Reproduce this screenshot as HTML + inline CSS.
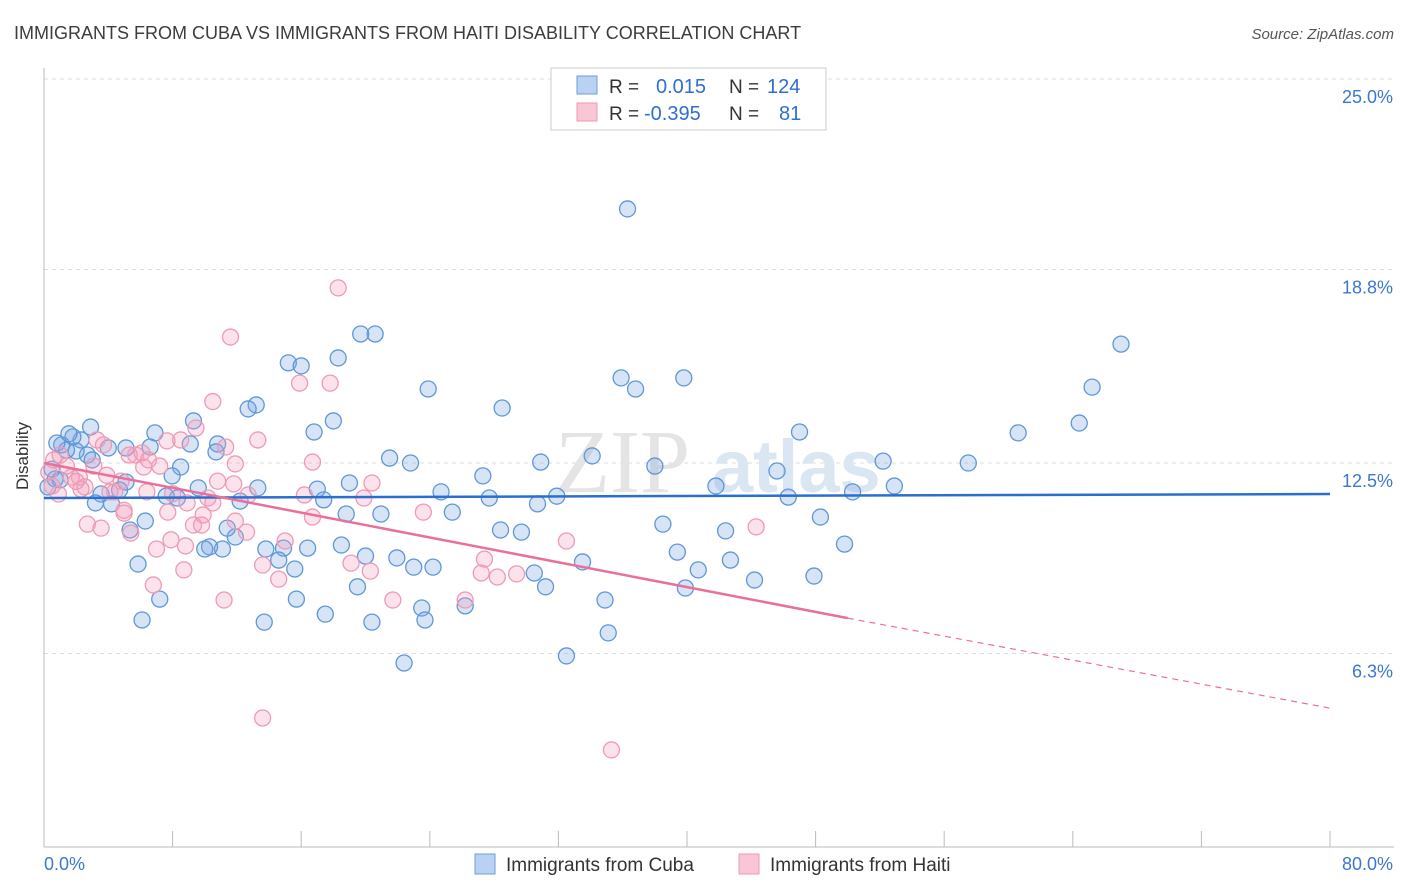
<!DOCTYPE html>
<html><head><meta charset="utf-8"><style>
body{margin:0;background:#fff;font-family:"Liberation Sans",sans-serif;}
svg{display:block}
</style></head><body>
<svg id="chart" width="1406" height="892">
<text x="14" y="39" font-size="18" fill="#3c3c3c">IMMIGRANTS FROM CUBA VS IMMIGRANTS FROM HAITI DISABILITY CORRELATION CHART</text>
<text x="1394" y="39" font-size="15" fill="#555" font-style="italic" text-anchor="end">Source: ZipAtlas.com</text>
<text x="28" y="456" font-size="17" fill="#333" text-anchor="middle" transform="rotate(-90 28 456)">Disability</text>
<g id="grid"></g>
<g><text x="555" y="492" font-size="90" font-family="Liberation Serif" fill="#e4e4e4">ZIP</text><text x="712" y="492" font-size="74" fill="#dbe6f3" font-weight="bold">atlas</text></g>
<g id="axes"></g>
<g id="pts"></g>
<g id="trends"></g>
<g>
<rect x="551" y="68" width="275" height="62" fill="#fff" stroke="#ccc"/>
<rect x="577" y="76" width="20" height="18" fill="#b9d2f2" stroke="#6a9fdc"/>
<rect x="577" y="103" width="20" height="18" fill="#f8c6d5" stroke="#ee9ab5"/>
<text x="609" y="93" font-size="19" fill="#333">R = </text><text x="656" y="93" font-size="20" fill="#2f6fcf">0.015</text>
<text x="729" y="93" font-size="19" fill="#333">N = </text><text x="767" y="93" font-size="20" fill="#2f6fcf">124</text>
<text x="609" y="120" font-size="19" fill="#333">R = </text><text x="644" y="120" font-size="20" fill="#2f6fcf">-0.395</text>
<text x="729" y="120" font-size="19" fill="#333">N = </text><text x="779" y="120" font-size="20" fill="#2f6fcf">81</text>
</g>
<g>
<rect x="475" y="854" width="20" height="20" fill="#b9d2f2" stroke="#6a9fdc"/>
<text x="506" y="871" font-size="19" fill="#333">Immigrants from Cuba</text>
<rect x="739" y="854" width="20" height="20" fill="#f8c6d5" stroke="#ee9ab5"/>
<text x="770" y="871" font-size="19" fill="#333">Immigrants from Haiti</text>
</g>
</svg>
<script>
const yTicks=[25.0,18.8,12.5,6.3];
const yTickLabels=["25.0%","18.8%","12.5%","6.3%"];
const xTickLabels=["0.0%","80.0%"];
const cubaX=[36.3,67.0,65.2,64.4,60.6,57.5,52.2,52.9,50.3,47.0,45.6,46.3,48.3,49.8,47.9,44.2,42.7,42.4,41.8,39.8,38.0,38.5,39.4,40.7,39.9,35.9,36.8,34.1,33.5,34.9,35.1,32.5,31.9,30.9,30.7,31.2,30.5,29.7,28.4,28.5,27.7,27.3,26.2,25.4,24.7,23.9,24.2,23.0,23.5,23.7,22.4,21.95,22.8,21.5,20.96,20.6,19.7,18.3,18.0,19.0,18.8,18.5,19.5,20.0,20.4,17.5,16.8,17.0,17.4,16.4,15.7,15.6,14.9,15.2,16.0,14.6,13.7,13.8,13.2,12.7,13.3,12.2,11.9,11.4,11.1,10.8,10.7,10.3,10.0,9.6,9.3,9.1,8.5,8.3,7.6,7.97,7.2,6.9,6.6,6.3,5.85,6.1,5.35,5.1,5.1,4.7,4.2,3.55,3.2,4.0,2.9,2.7,2.3,1.8,2.0,1.4,1.1,0.8,0.5,0.7,0.25,1.0,1.55,3.0];
const cubaY=[20.77,16.37,14.97,13.8,13.48,12.5,12.56,11.75,11.56,13.51,12.24,11.39,10.74,9.86,8.82,8.69,9.34,10.29,11.75,15.27,12.4,10.51,9.6,9.02,8.43,15.27,14.91,12.73,9.28,8.04,6.97,6.22,11.42,12.53,11.17,8.47,8.92,10.25,10.32,14.29,11.36,12.08,7.85,10.9,11.56,14.91,9.11,9.11,7.78,7.39,5.99,9.41,12.5,12.66,10.84,16.7,16.7,15.92,13.87,11.85,10.84,9.83,8.47,9.47,7.32,7.58,13.51,11.65,11.3,9.73,8.07,9.05,9.73,15.76,15.66,9.34,7.32,9.7,14.39,14.26,11.69,11.26,10.09,10.38,9.7,13.12,12.86,9.77,9.7,11.69,13.87,13.12,12.37,11.36,11.42,12.08,8.07,13.48,13.02,10.61,9.21,7.39,10.32,12.99,11.88,11.62,11.17,11.49,11.2,12.99,13.67,12.76,13.25,13.35,12.89,12.92,13.09,13.15,12.3,11.98,11.72,11.95,13.45,12.6];
const haitiX=[35.3,13.6,18.3,11.6,15.9,17.8,10.5,9.45,13.3,11.3,8.5,7.65,16.7,20.4,19.9,16.2,10.8,11.8,10.2,8.9,7.7,7.2,6.2,6.4,5.7,5.3,4.8,4.1,4.4,4.98,5.4,3.7,3.1,3.3,2.55,2.3,2.2,1.7,1.4,0.9,0.5,0.6,2.7,3.55,7.0,6.8,7.9,8.7,8.8,9.3,9.8,9.9,10.5,11.2,11.9,12.6,12.7,13.6,14.6,15.0,16.7,19.1,20.3,21.7,23.6,26.2,27.2,27.4,28.2,29.4,32.5,44.3,11.9,6.1,6.5,4.98,1.0,0.3,2.0,3.9,8.0];
const haitiY=[3.16,4.2,18.2,16.6,15.1,15.1,14.5,13.64,13.25,13.02,13.25,13.22,12.53,11.85,11.36,11.46,11.91,11.82,11.36,11.2,10.9,12.4,12.37,11.56,12.76,12.76,11.91,11.56,11.56,10.87,10.22,13.09,12.4,13.25,11.72,11.65,12.04,12.04,12.4,11.49,11.75,12.6,10.51,10.38,9.7,8.53,10.0,9.02,9.8,10.48,10.48,10.81,11.2,8.04,10.61,10.25,11.46,9.18,8.72,9.96,10.74,9.24,8.98,8.04,10.9,8.04,8.92,9.37,8.79,8.89,9.96,10.42,12.47,12.83,12.6,10.96,12.76,12.2,11.9,12.1,11.5];
const cubaTrend=[11.36,11.49]; // value at x=0 and x=80
const haitiTrend=[12.5,7.45,4.52]; // at x=0, x=50 (solid end), x=80
const NS="http://www.w3.org/2000/svg";
const X0=44,X1=1330,YT=79,YB=847;
function sx(v){return X0+(X1-X0)*v/80;}
function sy(v){return YB-(YB-YT)*v/25;}
function mk(tag,attrs,parent){const e=document.createElementNS(NS,tag);for(const k in attrs)e.setAttribute(k,attrs[k]);parent.appendChild(e);return e;}
const grid=document.getElementById('grid'),axes=document.getElementById('axes');
yTicks.forEach((t,i)=>{
  const l=mk('line',{x1:X0,x2:1394,y1:sy(t),y2:sy(t),stroke:'#dcdcdc','stroke-dasharray':'4,4'},grid);
  
  
  const tx=mk('text',{x:1393,y:sy(t)+24,'font-size':18,fill:'#3a78d0','text-anchor':'end'},axes);
  tx.textContent=yTickLabels[i];
  
  
});
const ya=mk('line',{x1:X0,x2:X0,y1:68,y2:YB,stroke:'#bbb'},axes);


const xa=mk('line',{x1:X0,x2:1394,y1:YB,y2:YB,stroke:'#bbb'},axes);


for(let i=0;i<=10;i++){
  const t=mk('line',{x1:sx(i*8),x2:sx(i*8),y1:YB-16,y2:YB,stroke:'#bbb'},axes);
  
  
}
const xl0=mk('text',{x:44,y:870,'font-size':18,fill:'#3a78d0'},axes);xl0.textContent=xTickLabels[0];


const xl1=mk('text',{x:1393,y:870,'font-size':18,fill:'#3a78d0','text-anchor':'end'},axes);xl1.textContent=xTickLabels[1];


const pts=document.getElementById('pts');
cubaX.forEach((x,i)=>{
  const c=mk('circle',{cx:sx(x),cy:sy(cubaY[i]),r:8,fill:'rgba(120,165,225,0.3)',stroke:'#5f97d8','stroke-width':1.3},pts);
  
  
});
haitiX.forEach((x,i)=>{
  const c=mk('circle',{cx:sx(x),cy:sy(haitiY[i]),r:8,fill:'rgba(245,160,190,0.3)',stroke:'#ee9ab5','stroke-width':1.3},pts);
  
  
});
const tr=document.getElementById('trends');
const l1=mk('line',{x1:sx(0),y1:sy(cubaTrend[0]),x2:sx(80),y2:sy(cubaTrend[1]),stroke:'#2a6fd0','stroke-width':2.5},tr);


const l2=mk('line',{x1:sx(0),y1:sy(haitiTrend[0]),x2:sx(50),y2:sy(haitiTrend[1]),stroke:'#e8709a','stroke-width':2.5},tr);


const l3=mk('line',{x1:sx(50),y1:sy(haitiTrend[1]),x2:sx(80),y2:sy(haitiTrend[2]),stroke:'#e8709a','stroke-width':1.2,'stroke-dasharray':'6,5'},tr);


</script>
</body></html>
